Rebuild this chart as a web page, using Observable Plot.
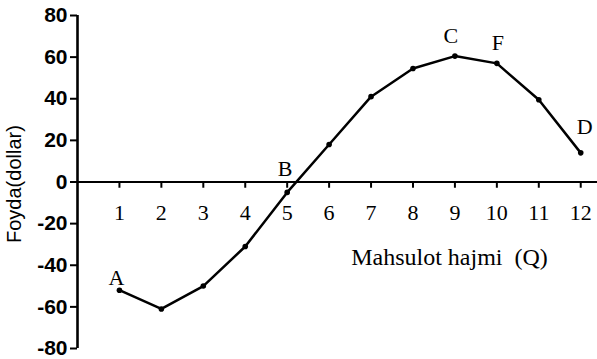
<!DOCTYPE html>
<html>
<head>
<meta charset="utf-8">
<script src="https://cdn.jsdelivr.net/npm/d3@7"></script>
<script src="https://cdn.jsdelivr.net/npm/@observablehq/plot@0.6"></script>
<style>
  html, body { margin: 0; padding: 0; background: #fff; }
  #chart svg { display: block; }
</style>
</head>
<body>
<div id="chart"></div>
<script>
// Data
const quantity = [1, 2, 3, 4, 5, 6, 7, 8, 9, 10, 11, 12];
const profit = [-52, -61, -50, -31, -5, 18, 41, 54.5, 60.5, 57, 39.5, 14];
const yTicks = [-80, -60, -40, -20, 0, 20, 40, 60, 80];
const pointLetters = [
  {q: 1, letter: "A"},
  {q: 5, letter: "B"},
  {q: 9, letter: "C"},
  {q: 10, letter: "F"},
  {q: 12, letter: "D"}
];
const xTitle = "Mahsulot hajmi  (Q)";
const yTitle = "Foyda(dollar)";

const data = quantity.map((q, i) => ({q, p: profit[i]}));
const letterData = pointLetters.map(d => ({...d, p: profit[quantity.indexOf(d.q)]}));
const letterOffset = {A: [-3, -12], B: [-2, -23], C: [-4, -20], F: [1, -20], D: [4, -26]};

const serif = "'Liberation Serif', 'Times New Roman', serif";
const sans = "'Liberation Sans', Arial, sans-serif";
const narrow = "'Liberation Sans Narrow', 'Arial Narrow', sans-serif";

const chart = Plot.plot({
  width: 597,
  height: 359,
  marginLeft: 77,
  marginRight: 0,
  marginTop: 15,
  marginBottom: 11,
  style: {background: "#fff", color: "#000", overflow: "visible"},
  x: {domain: [0, 12.4], axis: null},
  y: {domain: [-80, 80], axis: null},
  marks: [
    // y axis line and ticks
    Plot.ruleX([0], {y1: -80, y2: 80, stroke: "#000", strokeWidth: 2.6}),
    Plot.axisY({
      ticks: yTicks,
      tickSize: 7,
      tickPadding: 3,
      tickFormat: d => String(d),
      strokeWidth: 2,
      fontSize: 21,
      fontFamily: narrow,
      fontWeight: "bold",
      label: null
    }),
    // x axis line at 0
    Plot.ruleY([0], {x1: 0, x2: 12.4, stroke: "#000", strokeWidth: 2}),
    // x ticks downward
    Plot.ruleX(quantity, {x: d => d, y1: 0, y2: -3, stroke: "#000", strokeWidth: 2}),
    Plot.text(quantity, {x: d => d, y: -15, text: d => String(d), fontSize: 22, fontFamily: serif, fill: "#000"}),
    // titles
    Plot.text([xTitle], {x: 8.87, y: -36, text: d => d, fontSize: 24, fontFamily: serif, fill: "#000"}),
    Plot.text([yTitle], {x: 0, y: -1, dx: -63, text: d => d, rotate: -90, textAnchor: "middle", fontSize: 20, fontFamily: sans, fill: "#000"}),
    // profit line and points
    Plot.line(data, {x: "q", y: "p", stroke: "#000", strokeWidth: 2.5}),
    Plot.dot(data, {x: "q", y: "p", r: 2.8, fill: "#000", stroke: "none"}),
    // letters
    ...letterData.map(d => Plot.text([d], {x: "q", y: "p", text: "letter", dx: letterOffset[d.letter][0], dy: letterOffset[d.letter][1], fontSize: 22, fontFamily: serif, fill: "#000"}))
  ]
});
document.getElementById("chart").appendChild(chart);
</script>
</body>
</html>
